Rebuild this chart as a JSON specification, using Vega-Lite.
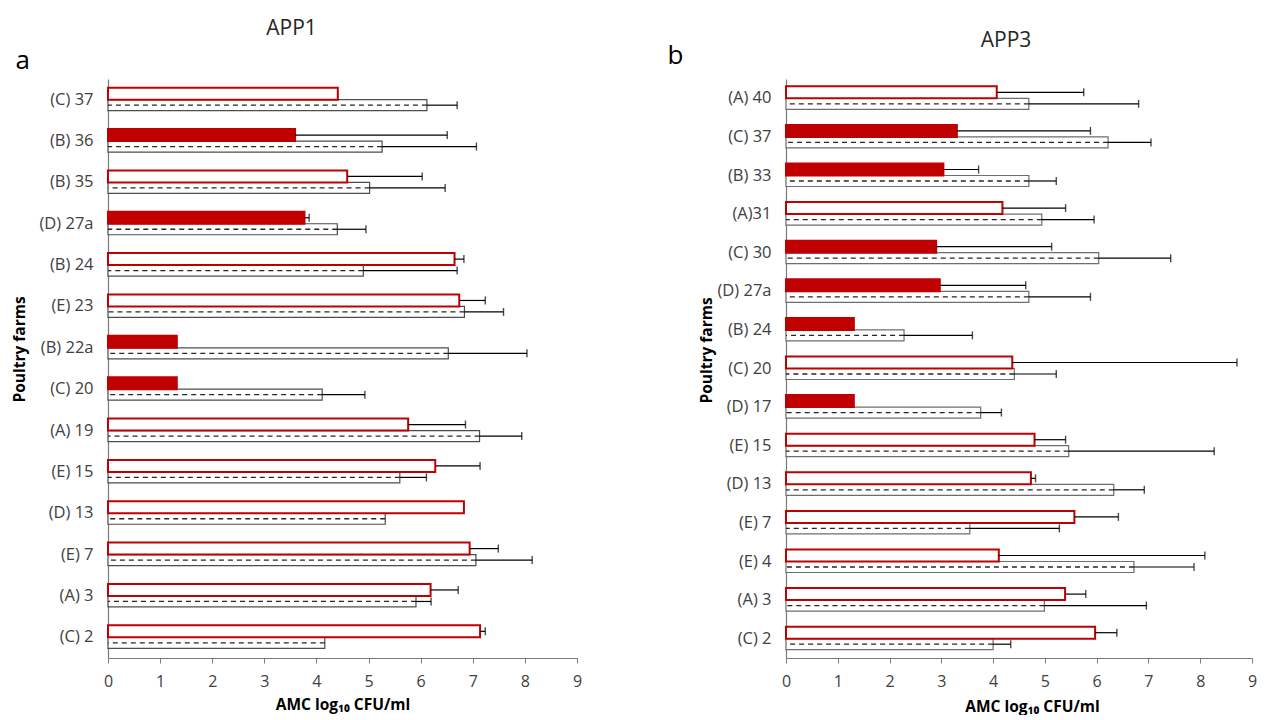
{
  "$schema": "https://vega.github.io/schema/vega-lite/v6.json",
  "padding": {"left": 12, "top": 18, "right": 0, "bottom": 0},
  "background": "white",
  "config": {
    "font": "Open Sans",
    "view": {"stroke": null},
    "axis": {"grid": false, "labelFont": "Open Sans", "titleFont": "Open Sans"}
  },
  "datasets": {
    "app1": [
      {"farm": "(C) 37", "series": "r", "value": 4.41, "hi": null, "filled": false},
      {"farm": "(C) 37", "series": "h", "value": 6.12, "hi": 6.70, "filled": false},
      {"farm": "(B) 36", "series": "r", "value": 3.59, "hi": 6.51, "filled": true},
      {"farm": "(B) 36", "series": "h", "value": 5.26, "hi": 7.07, "filled": false},
      {"farm": "(B) 35", "series": "r", "value": 4.59, "hi": 6.03, "filled": false},
      {"farm": "(B) 35", "series": "h", "value": 5.02, "hi": 6.47, "filled": false},
      {"farm": "(D) 27a", "series": "r", "value": 3.77, "hi": 3.86, "filled": true},
      {"farm": "(D) 27a", "series": "h", "value": 4.40, "hi": 4.95, "filled": false},
      {"farm": "(B) 24", "series": "r", "value": 6.65, "hi": 6.83, "filled": false},
      {"farm": "(B) 24", "series": "h", "value": 4.90, "hi": 6.70, "filled": false},
      {"farm": "(E) 23", "series": "r", "value": 6.74, "hi": 7.24, "filled": false},
      {"farm": "(E) 23", "series": "h", "value": 6.84, "hi": 7.59, "filled": false},
      {"farm": "(B) 22a", "series": "r", "value": 1.32, "hi": null, "filled": true},
      {"farm": "(B) 22a", "series": "h", "value": 6.53, "hi": 8.04, "filled": false},
      {"farm": "(C) 20", "series": "r", "value": 1.32, "hi": null, "filled": true},
      {"farm": "(C) 20", "series": "h", "value": 4.11, "hi": 4.93, "filled": false},
      {"farm": "(A) 19", "series": "r", "value": 5.76, "hi": 6.86, "filled": false},
      {"farm": "(A) 19", "series": "h", "value": 7.13, "hi": 7.94, "filled": false},
      {"farm": "(E) 15", "series": "r", "value": 6.28, "hi": 7.14, "filled": false},
      {"farm": "(E) 15", "series": "h", "value": 5.60, "hi": 6.11, "filled": false},
      {"farm": "(D) 13", "series": "r", "value": 6.83, "hi": null, "filled": false},
      {"farm": "(D) 13", "series": "h", "value": 5.32, "hi": null, "filled": false},
      {"farm": "(E) 7", "series": "r", "value": 6.94, "hi": 7.49, "filled": false},
      {"farm": "(E) 7", "series": "h", "value": 7.06, "hi": 8.14, "filled": false},
      {"farm": "(A) 3", "series": "r", "value": 6.19, "hi": 6.72, "filled": false},
      {"farm": "(A) 3", "series": "h", "value": 5.91, "hi": 6.20, "filled": false},
      {"farm": "(C) 2", "series": "r", "value": 7.14, "hi": 7.24, "filled": false},
      {"farm": "(C) 2", "series": "h", "value": 4.16, "hi": null, "filled": false}
    ],
    "app3": [
      {"farm": "(A) 40", "series": "r", "value": 4.07, "hi": 5.75, "filled": false},
      {"farm": "(A) 40", "series": "h", "value": 4.69, "hi": 6.81, "filled": false},
      {"farm": "(C) 37", "series": "r", "value": 3.30, "hi": 5.88, "filled": true},
      {"farm": "(C) 37", "series": "h", "value": 6.22, "hi": 7.05, "filled": false},
      {"farm": "(B) 33", "series": "r", "value": 3.04, "hi": 3.72, "filled": true},
      {"farm": "(B) 33", "series": "h", "value": 4.69, "hi": 5.22, "filled": false},
      {"farm": "(A)31", "series": "r", "value": 4.18, "hi": 5.40, "filled": false},
      {"farm": "(A)31", "series": "h", "value": 4.94, "hi": 5.95, "filled": false},
      {"farm": "(C) 30", "series": "r", "value": 2.90, "hi": 5.13, "filled": true},
      {"farm": "(C) 30", "series": "h", "value": 6.04, "hi": 7.43, "filled": false},
      {"farm": "(D) 27a", "series": "r", "value": 2.97, "hi": 4.63, "filled": true},
      {"farm": "(D) 27a", "series": "h", "value": 4.69, "hi": 5.88, "filled": false},
      {"farm": "(B) 24", "series": "r", "value": 1.31, "hi": null, "filled": true},
      {"farm": "(B) 24", "series": "h", "value": 2.28, "hi": 3.60, "filled": false},
      {"farm": "(C) 20", "series": "r", "value": 4.37, "hi": 8.71, "filled": false},
      {"farm": "(C) 20", "series": "h", "value": 4.41, "hi": 5.22, "filled": false},
      {"farm": "(D) 17", "series": "r", "value": 1.31, "hi": null, "filled": true},
      {"farm": "(D) 17", "series": "h", "value": 3.76, "hi": 4.16, "filled": false},
      {"farm": "(E) 15", "series": "r", "value": 4.80, "hi": 5.40, "filled": false},
      {"farm": "(E) 15", "series": "h", "value": 5.46, "hi": 8.27, "filled": false},
      {"farm": "(D) 13", "series": "r", "value": 4.73, "hi": 4.82, "filled": false},
      {"farm": "(D) 13", "series": "h", "value": 6.33, "hi": 6.92, "filled": false},
      {"farm": "(E) 7", "series": "r", "value": 5.57, "hi": 6.42, "filled": false},
      {"farm": "(E) 7", "series": "h", "value": 3.55, "hi": 5.28, "filled": false},
      {"farm": "(E) 4", "series": "r", "value": 4.11, "hi": 8.09, "filled": false},
      {"farm": "(E) 4", "series": "h", "value": 6.72, "hi": 7.88, "filled": false},
      {"farm": "(A) 3", "series": "r", "value": 5.39, "hi": 5.79, "filled": false},
      {"farm": "(A) 3", "series": "h", "value": 4.99, "hi": 6.96, "filled": false},
      {"farm": "(C) 2", "series": "r", "value": 5.97, "hi": 6.39, "filled": false},
      {"farm": "(C) 2", "series": "h", "value": 4.00, "hi": 4.34, "filled": false}
    ]
  },
  "hconcat": [
    {
      "width": 469,
      "height": 579,
      "data": {"name": "app1"},
      "title": {"text": "APP1", "fontSize": 21, "fontWeight": "normal", "font": "Open Sans", "color": "#262626", "anchor": "middle", "frame": "group", "dx": -51, "offset": 8},
      "resolve": {"axis": {"x": "independent"}},
      "encoding": {
        "y": {
          "field": "farm", "type": "nominal",
          "scale": {"domain": ["(C) 37", "(B) 36", "(B) 35", "(D) 27a", "(B) 24", "(E) 23", "(B) 22a", "(C) 20", "(A) 19", "(E) 15", "(D) 13", "(E) 7", "(A) 3", "(C) 2"], "paddingInner": 0, "paddingOuter": 0},
          "axis": {"title": "Poultry farms", "titleFontWeight": "bold", "titleFontSize": 15.5, "titleColor": "#000000", "titleX": -89, "titleY": 270, "titleBaseline": "middle", "titleAlign": "center", "labelFontSize": 16.5, "labelColor": "#404040", "ticks": false, "tickSize": 0, "labelPadding": 15, "domainColor": "#7a7a7a", "domainWidth": 1.2}
        }
      },
      "layer": [
        {
          "transform": [{"filter": "datum.series == 'h'"}],
          "mark": {"type": "bar", "height": 11, "yOffset": 5.5, "fill": "white", "stroke": "#4d4d4d", "strokeWidth": 1.2},
          "encoding": {
            "x": {"field": "value", "type": "quantitative", "scale": {"domain": [0, 9], "nice": false},
              "axis": {"orient": "bottom", "values": [0, 1, 2, 3, 4, 5, 6, 7, 8, 9], "title": "AMC log₁₀ CFU/ml", "titleFontWeight": "bold", "titleFontSize": 15.5, "titleColor": "#000000", "titleY": 46, "titleBaseline": "middle", "labelFontSize": 16, "labelColor": "#404040", "labelFlush": false, "labelOverlap": false, "tickColor": "#7a7a7a", "domainColor": "#7a7a7a", "domainWidth": 1.2, "tickSize": 5, "labelPadding": 10}}
          }
        },
        {
          "transform": [{"filter": "datum.series == 'h'"}],
          "mark": {"type": "rule", "yOffset": 5.5, "stroke": "#262626", "strokeWidth": 1.3, "strokeDash": [5, 4]},
          "encoding": {
            "x": {"field": "value", "type": "quantitative", "scale": {"domain": [0, 9], "nice": false},
              "axis": {"orient": "top", "title": "a", "labels": false, "ticks": false, "domain": false, "titleX": -93, "titleY": -11, "titleAlign": "left", "titleBaseline": "alphabetic", "titleFontSize": 26, "titleFontWeight": "normal", "titleColor": "#000000", "titlePadding": 0}},
            "x2": {"datum": 0}
          }
        },
        {
          "transform": [{"filter": "datum.series == 'r'"}],
          "mark": {"type": "bar", "height": 12, "yOffset": -6, "stroke": "#C00000", "strokeWidth": 2},
          "encoding": {
            "x": {"field": "value", "type": "quantitative", "scale": {"domain": [0, 9], "nice": false}, "axis": null},
            "fill": {"condition": {"test": "datum.filled", "value": "#C00000"}, "value": "white"}
          }
        },
        {
          "transform": [{"filter": "datum.series == 'r' && datum.hi != null"}],
          "mark": {"type": "rule", "yOffset": -6, "stroke": "#000000", "strokeWidth": 1.2},
          "encoding": {
            "x": {"field": "value", "type": "quantitative", "scale": {"domain": [0, 9], "nice": false}, "axis": null},
            "x2": {"field": "hi"}
          }
        },
        {
          "transform": [{"filter": "datum.series == 'r' && datum.hi != null"}],
          "mark": {"type": "tick", "yOffset": -6, "color": "#000000", "size": 8, "thickness": 1.4},
          "encoding": {
            "x": {"field": "hi", "type": "quantitative", "scale": {"domain": [0, 9], "nice": false}, "axis": null}
          }
        },
        {
          "transform": [{"filter": "datum.series == 'h' && datum.hi != null"}],
          "mark": {"type": "rule", "yOffset": 5.5, "stroke": "#000000", "strokeWidth": 1.2},
          "encoding": {
            "x": {"field": "value", "type": "quantitative", "scale": {"domain": [0, 9], "nice": false}, "axis": null},
            "x2": {"field": "hi"}
          }
        },
        {
          "transform": [{"filter": "datum.series == 'h' && datum.hi != null"}],
          "mark": {"type": "tick", "yOffset": 5.5, "color": "#000000", "size": 8, "thickness": 1.4},
          "encoding": {
            "x": {"field": "hi", "type": "quantitative", "scale": {"domain": [0, 9], "nice": false}, "axis": null}
          }
        }
      ]
    },
    {
      "width": 466,
      "height": 579,
      "data": {"name": "app3"},
      "title": {"text": "APP3", "fontSize": 21, "fontWeight": "normal", "font": "Open Sans", "color": "#262626", "anchor": "middle", "frame": "group", "dx": -13, "offset": -9},
      "resolve": {"axis": {"x": "independent"}},
      "encoding": {
        "y": {
          "field": "farm", "type": "nominal",
          "scale": {"domain": ["(A) 40", "(C) 37", "(B) 33", "(A)31", "(C) 30", "(D) 27a", "(B) 24", "(C) 20", "(D) 17", "(E) 15", "(D) 13", "(E) 7", "(E) 4", "(A) 3", "(C) 2"], "paddingInner": 0, "paddingOuter": 0},
          "axis": {"title": "Poultry farms", "titleFontWeight": "bold", "titleFontSize": 15.5, "titleColor": "#000000", "titleX": -80, "titleY": 271, "titleBaseline": "middle", "titleAlign": "center", "labelFontSize": 16.5, "labelColor": "#404040", "ticks": false, "tickSize": 0, "labelPadding": 15, "domainColor": "#7a7a7a", "domainWidth": 1.2}
        }
      },
      "layer": [
        {
          "transform": [{"filter": "datum.series == 'h'"}],
          "mark": {"type": "bar", "height": 11, "yOffset": 5.5, "fill": "white", "stroke": "#6e6e6e", "strokeWidth": 1.2},
          "encoding": {
            "x": {"field": "value", "type": "quantitative", "scale": {"domain": [0, 9], "nice": false},
              "axis": {"orient": "bottom", "values": [0, 1, 2, 3, 4, 5, 6, 7, 8, 9], "title": "AMC log₁₀ CFU/ml", "titleFontWeight": "bold", "titleFontSize": 15.5, "titleColor": "#000000", "titleX": 246, "titleY": 48, "titleAlign": "center", "titleBaseline": "middle", "labelFontSize": 16, "labelColor": "#404040", "labelFlush": false, "labelOverlap": false, "tickColor": "#7a7a7a", "domainColor": "#7a7a7a", "domainWidth": 1.2, "tickSize": 5, "labelPadding": 10}}
          }
        },
        {
          "transform": [{"filter": "datum.series == 'h'"}],
          "mark": {"type": "rule", "yOffset": 5.5, "stroke": "#262626", "strokeWidth": 1.3, "strokeDash": [5, 4]},
          "encoding": {
            "x": {"field": "value", "type": "quantitative", "scale": {"domain": [0, 9], "nice": false},
              "axis": {"orient": "top", "title": "b", "labels": false, "ticks": false, "domain": false, "titleX": -119, "titleY": -16, "titleAlign": "left", "titleBaseline": "alphabetic", "titleFontSize": 26, "titleFontWeight": "normal", "titleColor": "#000000", "titlePadding": 0}},
            "x2": {"datum": 0}
          }
        },
        {
          "transform": [{"filter": "datum.series == 'r'"}],
          "mark": {"type": "bar", "height": 12, "yOffset": -6, "stroke": "#C00000", "strokeWidth": 2},
          "encoding": {
            "x": {"field": "value", "type": "quantitative", "scale": {"domain": [0, 9], "nice": false}, "axis": null},
            "fill": {"condition": {"test": "datum.filled", "value": "#C00000"}, "value": "white"}
          }
        },
        {
          "transform": [{"filter": "datum.series == 'r' && datum.hi != null"}],
          "mark": {"type": "rule", "yOffset": -6, "stroke": "#000000", "strokeWidth": 1.2},
          "encoding": {
            "x": {"field": "value", "type": "quantitative", "scale": {"domain": [0, 9], "nice": false}, "axis": null},
            "x2": {"field": "hi"}
          }
        },
        {
          "transform": [{"filter": "datum.series == 'r' && datum.hi != null"}],
          "mark": {"type": "tick", "yOffset": -6, "color": "#000000", "size": 8, "thickness": 1.4},
          "encoding": {
            "x": {"field": "hi", "type": "quantitative", "scale": {"domain": [0, 9], "nice": false}, "axis": null}
          }
        },
        {
          "transform": [{"filter": "datum.series == 'h' && datum.hi != null"}],
          "mark": {"type": "rule", "yOffset": 5.5, "stroke": "#000000", "strokeWidth": 1.2},
          "encoding": {
            "x": {"field": "value", "type": "quantitative", "scale": {"domain": [0, 9], "nice": false}, "axis": null},
            "x2": {"field": "hi"}
          }
        },
        {
          "transform": [{"filter": "datum.series == 'h' && datum.hi != null"}],
          "mark": {"type": "tick", "yOffset": 5.5, "color": "#000000", "size": 8, "thickness": 1.4},
          "encoding": {
            "x": {"field": "hi", "type": "quantitative", "scale": {"domain": [0, 9], "nice": false}, "axis": null}
          }
        }
      ]
    }
  ],
  "spacing": 85
}
